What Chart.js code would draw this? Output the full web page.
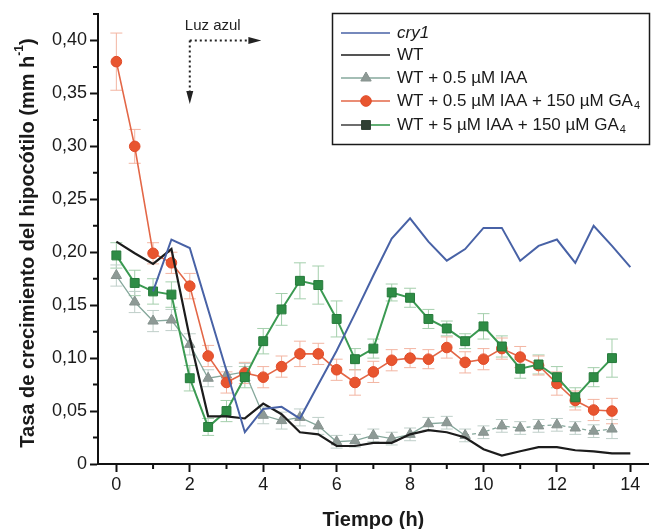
<!DOCTYPE html>
<html>
<head>
<meta charset="utf-8">
<script src="https://cdn.jsdelivr.net/npm/chart.js@4.4.1/dist/chart.umd.min.js"></script>
<style>
  html, body { margin: 0; padding: 0; background: #fff; }
  canvas { display: block; }
</style>
</head>
<body>
<canvas id="myChart" width="656" height="529"></canvas>
<script>
// tiempo (h)
const tiempo = [0, 0.5, 1, 1.5, 2, 2.5, 3, 3.5, 4, 4.5, 5, 5.5, 6, 6.5, 7, 7.5, 8, 8.5, 9, 9.5, 10, 10.5, 11, 11.5, 12, 12.5, 13, 13.5];
const tiempoWT = [0, 0.5, 1, 1.5, 2, 2.5, 3, 3.5, 4, 4.5, 5, 5.5, 6, 6.5, 7, 7.5, 8, 8.5, 9, 9.5, 10, 10.5, 11, 11.5, 12, 12.5, 13, 13.5, 14];
const tiempoCry1 = [1, 1.5, 2, 2.5, 3, 3.5, 4, 4.5, 5, 5.5, 6, 6.5, 7, 7.5, 8, 8.5, 9, 9.5, 10, 10.5, 11, 11.5, 12, 12.5, 13, 13.5, 14];

// tasa de crecimiento (mm h-1)
const cry1 = [0.163, 0.212, 0.204, 0.146, 0.088, 0.030, 0.052, 0.054, 0.043, 0.075, 0.107, 0.142, 0.178, 0.213, 0.232, 0.210, 0.192, 0.203, 0.223, 0.223, 0.192, 0.206, 0.212, 0.190, 0.225, 0.206, 0.186];
const wt = [0.210, 0.199, 0.189, 0.203, 0.119, 0.045, 0.045, 0.043, 0.057, 0.047, 0.030, 0.028, 0.017, 0.017, 0.020, 0.020, 0.028, 0.032, 0.030, 0.025, 0.014, 0.008, 0.012, 0.016, 0.016, 0.013, 0.012, 0.010, 0.010];
const wtIAA = [0.178, 0.153, 0.135, 0.136, 0.113, 0.081, 0.084, 0.087, 0.046, 0.041, 0.044, 0.036, 0.021, 0.022, 0.027, 0.024, 0.028, 0.038, 0.039, 0.027, 0.030, 0.036, 0.034, 0.036, 0.037, 0.034, 0.031, 0.033];
const wtIAAGA = [0.380, 0.300, 0.199, 0.190, 0.168, 0.102, 0.077, 0.086, 0.082, 0.092, 0.104, 0.104, 0.089, 0.077, 0.087, 0.098, 0.100, 0.099, 0.110, 0.096, 0.099, 0.109, 0.101, 0.093, 0.076, 0.060, 0.051, 0.050];
const wt5IAAGA = [0.197, 0.171, 0.163, 0.160, 0.081, 0.035, 0.050, 0.082, 0.116, 0.146, 0.173, 0.169, 0.137, 0.099, 0.109, 0.162, 0.157, 0.137, 0.128, 0.116, 0.130, 0.111, 0.090, 0.094, 0.082, 0.063, 0.082, 0.100];

// error estándar
const errIAA = [0.010, 0.010, 0.010, 0.010, 0.010, 0.008, 0.008, 0.008, 0.008, 0.008, 0.008, 0.008, 0.006, 0.006, 0.006, 0.006, 0.006, 0.006, 0.006, 0.006, 0.006, 0.006, 0.006, 0.006, 0.006, 0.006, 0.006, 0.009];
const errIAAGA = [0.027, 0.016, 0.010, 0.010, 0.012, 0.010, 0.010, 0.010, 0.010, 0.010, 0.012, 0.010, 0.010, 0.012, 0.010, 0.010, 0.009, 0.009, 0.010, 0.010, 0.010, 0.010, 0.010, 0.009, 0.011, 0.009, 0.010, 0.012];
const err5IAAGA = [0.012, 0.012, 0.012, 0.012, 0.012, 0.008, 0.010, 0.010, 0.012, 0.015, 0.017, 0.018, 0.017, 0.010, 0.009, 0.008, 0.009, 0.009, 0.007, 0.007, 0.012, 0.010, 0.009, 0.009, 0.010, 0.009, 0.009, 0.018];

// ejes
const xTicks = [0, 2, 4, 6, 8, 10, 12, 14];
const xMinor = [1, 3, 5, 7, 9, 11, 13];
const yTicks = [0, 0.05, 0.10, 0.15, 0.20, 0.25, 0.30, 0.35, 0.40];
const yMinor = [0.025, 0.075, 0.125, 0.175, 0.225, 0.275, 0.325, 0.375, 0.425];

// flecha de luz azul (inicio en h, hasta h, altura)
const luzInicio = 2;
const luzFin = 3.95;
const luzAltura = 0.40;
const luzAbajo = 0.34;

const FONT = "'Liberation Sans', Arial, Helvetica, sans-serif";

const pts = (xs, ys) => xs.map((x, i) => ({ x: x, y: ys[i] }));

const series = [
    { label: 'cry1', data: pts(tiempoCry1, cry1), borderColor: '#4862a6', borderWidth: 2, pointRadius: 0 },
    { label: 'WT', data: pts(tiempoWT, wt), borderColor: '#1c1c1c', borderWidth: 2.2, pointRadius: 0 },
    {
        label: 'WT + 5 µM IAA + 150 µM GA4', data: pts(tiempo, wt5IAAGA), errors: err5IAAGA, errColor: '#a4cfac',
        borderColor: '#3b9a52', borderWidth: 2, pointStyle: 'rect', pointRadius: 6.3,
        pointBackgroundColor: '#2e8c45', pointBorderColor: '#267a3b', pointBorderWidth: 1
    },
    {
        label: 'WT + 0.5 µM IAA + 150 µM GA4', data: pts(tiempo, wtIAAGA), errors: errIAAGA, errColor: '#f3b5a2',
        borderColor: '#e36747', borderWidth: 1.6, pointStyle: 'circle', pointRadius: 5.3,
        pointBackgroundColor: '#e8552f', pointBorderColor: '#e04a28', pointBorderWidth: 1
    },
    {
        label: 'WT + 0.5 µM IAA', data: pts(tiempo, wtIAA), errors: errIAA, errColor: '#bfcfc9',
        borderColor: '#86a89c', borderWidth: 1.3, pointStyle: 'triangle', pointRadius: 6,
        pointBackgroundColor: '#8e9a96', pointBorderColor: '#86928e', pointBorderWidth: 1,
        segment: { borderDash: c => c.p0.parsed.x >= 9.5 ? [4, 3] : undefined }
    }
];

// barras de error, tics menores, títulos, anotación y leyenda
const extras = {
    id: 'extras',
    beforeDatasetsDraw(chart) {
        const ctx = chart.ctx, xs = chart.scales.x, ys = chart.scales.y;
        ctx.save();
        ctx.lineWidth = 1;
        chart.data.datasets.forEach(ds => {
            if (!ds.errors) return;
            ctx.strokeStyle = ds.errColor;
            ds.data.forEach((p, i) => {
                const px = xs.getPixelForValue(p.x);
                const top = ys.getPixelForValue(p.y + ds.errors[i]);
                const bot = ys.getPixelForValue(p.y - ds.errors[i]);
                ctx.beginPath();
                ctx.moveTo(px, top); ctx.lineTo(px, bot);
                ctx.moveTo(px - 6, top); ctx.lineTo(px + 6, top);
                ctx.moveTo(px - 6, bot); ctx.lineTo(px + 6, bot);
                ctx.stroke();
            });
        });
        ctx.restore();
    },
    afterDraw(chart) {
        const ctx = chart.ctx, xs = chart.scales.x, ys = chart.scales.y, area = chart.chartArea;
        ctx.save();

        // tics menores
        ctx.strokeStyle = '#111';
        ctx.lineWidth = 2;
        ctx.beginPath();
        xMinor.forEach(v => {
            const px = xs.getPixelForValue(v);
            ctx.moveTo(px, area.bottom); ctx.lineTo(px, area.bottom + 5);
        });
        yMinor.forEach(v => {
            const py = ys.getPixelForValue(v);
            ctx.moveTo(area.left, py); ctx.lineTo(area.left - 5, py);
        });
        ctx.stroke();

        // título eje x
        ctx.fillStyle = '#1a1a1a';
        ctx.font = 'bold 20px ' + FONT;
        ctx.textAlign = 'center';
        ctx.textBaseline = 'middle';
        ctx.fillText('Tiempo (h)', (area.left + area.right) / 2, 520);

        // título eje y con superíndice
        ctx.save();
        ctx.translate(28, 243);
        ctx.rotate(-Math.PI / 2);
        const t1 = 'Tasa de crecimiento del hipocótilo (mm h', t2 = '-1', t3 = ')';
        ctx.font = 'bold 20px ' + FONT;
        const w1 = ctx.measureText(t1).width, w3 = ctx.measureText(t3).width;
        ctx.font = 'bold 12px ' + FONT;
        const w2 = ctx.measureText(t2).width;
        let x0 = -(w1 + w2 + w3) / 2;
        ctx.textAlign = 'left';
        ctx.font = 'bold 20px ' + FONT;
        ctx.fillText(t1, x0, 0);
        ctx.font = 'bold 12px ' + FONT;
        ctx.fillText(t2, x0 + w1, -8);
        ctx.font = 'bold 20px ' + FONT;
        ctx.fillText(t3, x0 + w1 + w2, 0);
        ctx.restore();

        // Luz azul
        const lx = xs.getPixelForValue(luzInicio), lx2 = xs.getPixelForValue(luzFin);
        const ly = ys.getPixelForValue(luzAltura), ly2 = ys.getPixelForValue(luzAbajo);
        ctx.font = '15px ' + FONT;
        ctx.fillStyle = '#222';
        ctx.textAlign = 'left';
        ctx.fillText('Luz azul', lx - 5, ly - 15);
        ctx.strokeStyle = '#222';
        ctx.lineWidth = 2;
        ctx.setLineDash([2, 3]);
        ctx.beginPath();
        ctx.moveTo(lx, ly); ctx.lineTo(lx2 - 12, ly);
        ctx.moveTo(lx, ly); ctx.lineTo(lx, ly2 - 12);
        ctx.stroke();
        ctx.setLineDash([]);
        ctx.beginPath();
        ctx.moveTo(lx2, ly); ctx.lineTo(lx2 - 13, ly - 3.5); ctx.lineTo(lx2 - 13, ly + 3.5); ctx.closePath();
        ctx.moveTo(lx, ly2); ctx.lineTo(lx - 3.5, ly2 - 13); ctx.lineTo(lx + 3.5, ly2 - 13); ctx.closePath();
        ctx.fill();

        // leyenda
        const bx = 332.5, by = 13.5, bw = 317, bh = 131;
        ctx.fillStyle = '#fff';
        ctx.fillRect(bx, by, bw, bh);
        ctx.strokeStyle = '#1a1a1a';
        ctx.lineWidth = 1.5;
        ctx.strokeRect(bx, by, bw, bh);

        const rows = [33, 55, 78, 101, 125];
        const order = [0, 1, 4, 3, 2];
        const l0 = 341, l1 = 390, mx = 366, tx = 397;
        order.forEach((di, r) => {
            const ds = chart.data.datasets[di];
            const y = rows[r];
            ctx.lineWidth = Math.min(ds.borderWidth, 1.6);
            if (di === 2) {
                ctx.strokeStyle = '#4a4a4a';
                ctx.beginPath(); ctx.moveTo(l0, y); ctx.lineTo(mx, y); ctx.stroke();
                ctx.strokeStyle = ds.borderColor;
                ctx.beginPath(); ctx.moveTo(mx, y); ctx.lineTo(l1, y); ctx.stroke();
            } else {
                ctx.strokeStyle = ds.borderColor;
                ctx.beginPath(); ctx.moveTo(l0, y); ctx.lineTo(l1, y); ctx.stroke();
            }
            if (ds.pointRadius > 0) {
                ctx.fillStyle = di === 2 ? '#2f3f33' : ds.pointBackgroundColor;
                ctx.strokeStyle = di === 2 ? '#2f3f33' : ds.pointBorderColor;
                ctx.lineWidth = 1;
                Chart.helpers.drawPoint(ctx, { pointStyle: ds.pointStyle, radius: ds.pointRadius, borderWidth: 1, rotation: 0 }, mx, y);
            }
            ctx.fillStyle = '#1a1a1a';
            ctx.textAlign = 'left';
            ctx.textBaseline = 'middle';
            if (di === 0) {
                ctx.font = 'italic 17px ' + FONT;
                ctx.fillText(ds.label, tx, y);
            } else if (ds.label.endsWith('GA4')) {
                const base = ds.label.slice(0, -1);
                ctx.font = '17px ' + FONT;
                ctx.fillText(base, tx, y);
                const w = ctx.measureText(base).width;
                ctx.font = '11px ' + FONT;
                ctx.fillText('4', tx + w + 1, y + 5);
            } else {
                ctx.font = '17px ' + FONT;
                ctx.fillText(ds.label, tx, y);
            }
        });
        ctx.restore();
    }
};

const ctx = document.getElementById('myChart').getContext('2d');
const myChart = new Chart(ctx, {
    type: 'line',
    data: { datasets: series },
    options: {
        responsive: false,
        animation: false,
        layout: { padding: { top: 14, right: 6, left: 0, bottom: 0 } },
        plugins: {
            legend: { display: false },
            tooltip: { enabled: false }
        },
        scales: {
            x: {
                type: 'linear',
                min: -0.5,
                max: 14.5,
                afterBuildTicks: s => { s.ticks = xTicks.map(v => ({ value: v })); },
                afterFit: s => { s.height = 65; },
                grid: { drawOnChartArea: false, drawTicks: true, tickLength: 8, tickWidth: 2, tickColor: '#111' },
                border: { display: true, color: '#111', width: 2 },
                ticks: { font: { family: FONT, size: 18 }, color: '#1a1a1a', padding: 2, maxRotation: 0 }
            },
            y: {
                min: 0,
                max: 0.425,
                afterBuildTicks: s => { s.ticks = yTicks.map(v => ({ value: v })); },
                afterFit: s => { s.width = 98; },
                grid: { drawOnChartArea: false, drawTicks: true, tickLength: 8, tickWidth: 2, tickColor: '#111' },
                border: { display: true, color: '#111', width: 2 },
                ticks: {
                    font: { family: FONT, size: 18 }, color: '#1a1a1a', padding: 3,
                    callback: v => v === 0 ? '0' : v.toFixed(2).replace('.', ',')
                }
            }
        }
    },
    plugins: [extras]
});
</script>
</body>
</html>
